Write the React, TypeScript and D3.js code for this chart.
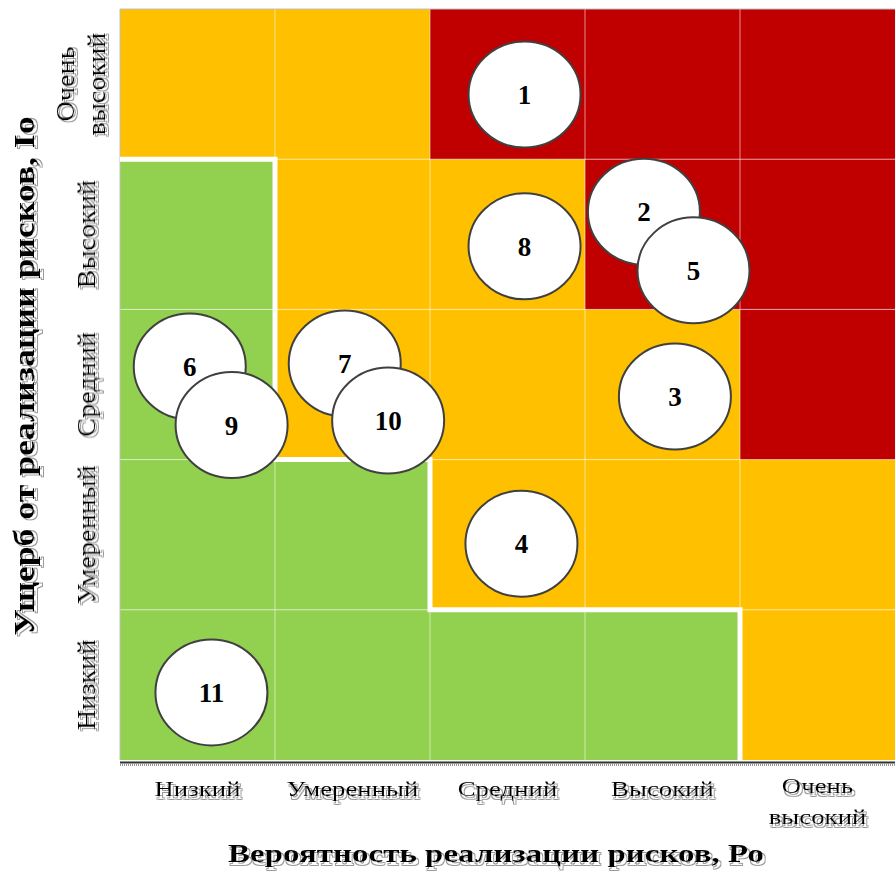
import * as d3 from "d3";
import { useEffect, useRef } from "react";

// categories, low -> very high
const probLabels = ["Низкий", "Умеренный", "Средний", "Высокий", "Очень высокий"];
const damageLabels = ["Низкий", "Умеренный", "Средний", "Высокий", "Очень высокий"];

// zone of each cell, rows from "Низкий" damage up; g = green, o = orange, r = red
const zoneRows = [
  ["g", "g", "g", "g", "o"],
  ["g", "g", "o", "o", "o"],
  ["g", "o", "o", "o", "r"],
  ["g", "o", "o", "r", "r"],
  ["o", "o", "r", "r", "r"],
];

// top of the green zone per probability column
const greenTop = [4, 2, 1, 1, 0];

// risks: id, probability position, damage position
const riskIds = [1, 2, 3, 4, 5, 6, 7, 8, 9, 10, 11];
const riskProb = [2.61, 3.38, 3.58, 2.59, 3.7, 0.45, 1.45, 2.61, 0.72, 1.73, 0.59];
const riskDamage = [4.43, 3.65, 2.42, 1.44, 3.26, 2.62, 2.64, 3.42, 2.23, 2.26, 0.45];

const zoneColor: Record<string, string> = { g: "#92D050", o: "#FFC000", r: "#C00000" };

const App = () => {
  const ref = useRef<SVGSVGElement | null>(null);

  useEffect(() => {
    const svg = d3.select(ref.current);
    svg.selectAll("*").remove();

    const width = 895,
      height = 871;
    const margin = { top: 9, right: 0, bottom: 111, left: 120 };

    const x = d3.scaleLinear().domain([0, 5]).range([margin.left, width - margin.right]);
    const y = d3.scaleLinear().domain([0, 5]).range([height - margin.bottom, margin.top]);

    const font = "'Liberation Serif', 'Times New Roman', serif";

    // hollow grey shadow behind text, one filter per text direction
    const defs = svg.append("defs");
    const addShadow = (id: string, dx: number, dy: number) => {
      const f = defs
        .append("filter")
        .attr("id", id)
        .attr("x", "-20%")
        .attr("y", "-40%")
        .attr("width", "140%")
        .attr("height", "180%");
      f.append("feOffset").attr("in", "SourceAlpha").attr("dx", dx).attr("dy", dy).attr("result", "off");
      f.append("feMorphology").attr("in", "off").attr("operator", "dilate").attr("radius", 0.7).attr("result", "dil");
      f.append("feFlood").attr("flood-color", "#9a9a9a").attr("result", "grey");
      f.append("feComposite").attr("in", "grey").attr("in2", "dil").attr("operator", "in").attr("result", "ring");
      f.append("feFlood").attr("flood-color", "#ffffff").attr("result", "white");
      f.append("feComposite").attr("in", "white").attr("in2", "off").attr("operator", "in").attr("result", "fill");
      const m = f.append("feMerge");
      m.append("feMergeNode").attr("in", "ring");
      m.append("feMergeNode").attr("in", "fill");
      m.append("feMergeNode").attr("in", "SourceGraphic");
    };
    addShadow("shH", 1.7, 3);
    addShadow("shV", -0.8, 2.5);

    // cells
    const cells = zoneRows.flatMap((row, r) => row.map((z, c) => ({ r, c, z })));
    svg
      .append("g")
      .selectAll("rect")
      .data(cells)
      .join("rect")
      .attr("x", (d) => x(d.c))
      .attr("y", (d) => y(d.r + 1))
      .attr("width", (d) => x(d.c + 1) - x(d.c))
      .attr("height", (d) => y(d.r) - y(d.r + 1))
      .attr("fill", (d) => zoneColor[d.z]);

    // thin grid lines
    const grid = svg.append("g").attr("stroke", "#fff").attr("stroke-opacity", 0.55).attr("stroke-width", 1);
    d3.range(1, 5).forEach((i) => {
      grid.append("line").attr("x1", x(i)).attr("x2", x(i)).attr("y1", y(5)).attr("y2", y(0));
      grid.append("line").attr("x1", x(0)).attr("x2", x(5)).attr("y1", y(i)).attr("y2", y(i));
    });
    svg
      .append("path")
      .attr("d", `M${x(0)},${y(0)}V${y(5)}H${x(5)}`)
      .attr("fill", "none")
      .attr("stroke", "#c0c0c0")
      .attr("stroke-width", 1);

    // green zone boundary
    const boundary = d3
      .line<number>()
      .x((_, i) => x(i))
      .y((d) => y(d))
      .curve(d3.curveStepAfter);
    svg
      .append("path")
      .datum(greenTop)
      .attr("d", boundary)
      .attr("fill", "none")
      .attr("stroke", "#fff")
      .attr("stroke-width", 5);

    // bottom axis line with shadow
    svg
      .append("line")
      .attr("x1", x(0))
      .attr("x2", x(5))
      .attr("y1", y(0) + 5)
      .attr("y2", y(0) + 5)
      .attr("stroke", "#999")
      .attr("stroke-width", 2)
      .attr("stroke-dasharray", "1 1");
    svg
      .append("line")
      .attr("x1", x(0))
      .attr("x2", x(5))
      .attr("y1", y(0) + 2.5)
      .attr("y2", y(0) + 2.5)
      .attr("stroke", "#333")
      .attr("stroke-width", 2);

    const label = (
      tx: number,
      ty: number,
      rot: number,
      sx: number,
      lines: string[],
      size: number,
      weight: string,
      lh: number,
      filter: string
    ) => {
      const t = svg
        .append("text")
        .attr("transform", `translate(${tx},${ty}) rotate(${rot}) scale(${sx},1)`)
        .attr("text-anchor", "middle")
        .attr("font-family", font)
        .attr("font-size", size)
        .attr("font-weight", weight)
        .attr("fill", "#000")
        .attr("filter", `url(#${filter})`);
      lines.forEach((l, i) =>
        t.append("tspan").attr("x", 0).attr("y", (i - (lines.length - 1) / 2) * lh).text(l)
      );
    };

    // x tick labels
    probLabels.forEach((lab, i) => {
      const lines = lab.split(" ");
      label(x(i + 0.5), lines.length > 1 ? 808 : 796, 0, 1.22, lines, 22, "normal", 31, "shH");
    });

    // y tick labels
    damageLabels.forEach((lab, i) => {
      const lines = lab.split(" ");
      label(lines.length > 1 ? 89 : 95, y(i + 0.5), -90, 1.13, lines, 25, "normal", 31, "shV");
    });

    // axis titles
    label(496, 862, 0, 1.27, ["Вероятность реализации рисков, Ро"], 26, "bold", 30, "shH");
    label(34, 376, -90, 1.19, ["Ущерб от реализации рисков, Io"], 30, "bold", 30, "shV");

    // risk bubbles
    const risks = riskIds.map((id, i) => ({ id, p: riskProb[i], d: riskDamage[i] }));
    const bubbles = svg
      .append("g")
      .selectAll("g")
      .data(risks)
      .join("g")
      .attr("transform", (d) => `translate(${x(d.p)},${y(d.d)})`);
    bubbles
      .append("ellipse")
      .attr("rx", 56)
      .attr("ry", 53)
      .attr("fill", "#fff")
      .attr("stroke", "#404040")
      .attr("stroke-width", 2);
    bubbles
      .append("text")
      .attr("text-anchor", "middle")
      .attr("dy", "0.35em")
      .attr("font-family", font)
      .attr("font-size", 27)
      .attr("font-weight", "bold")
      .text((d) => d.id);
  }, []);

  return (
    <svg
      ref={ref}
      width={895}
      height={871}
      style={{ position: "absolute", left: 0, top: 0, background: "#fff" }}
    ></svg>
  );
};

export default App;
